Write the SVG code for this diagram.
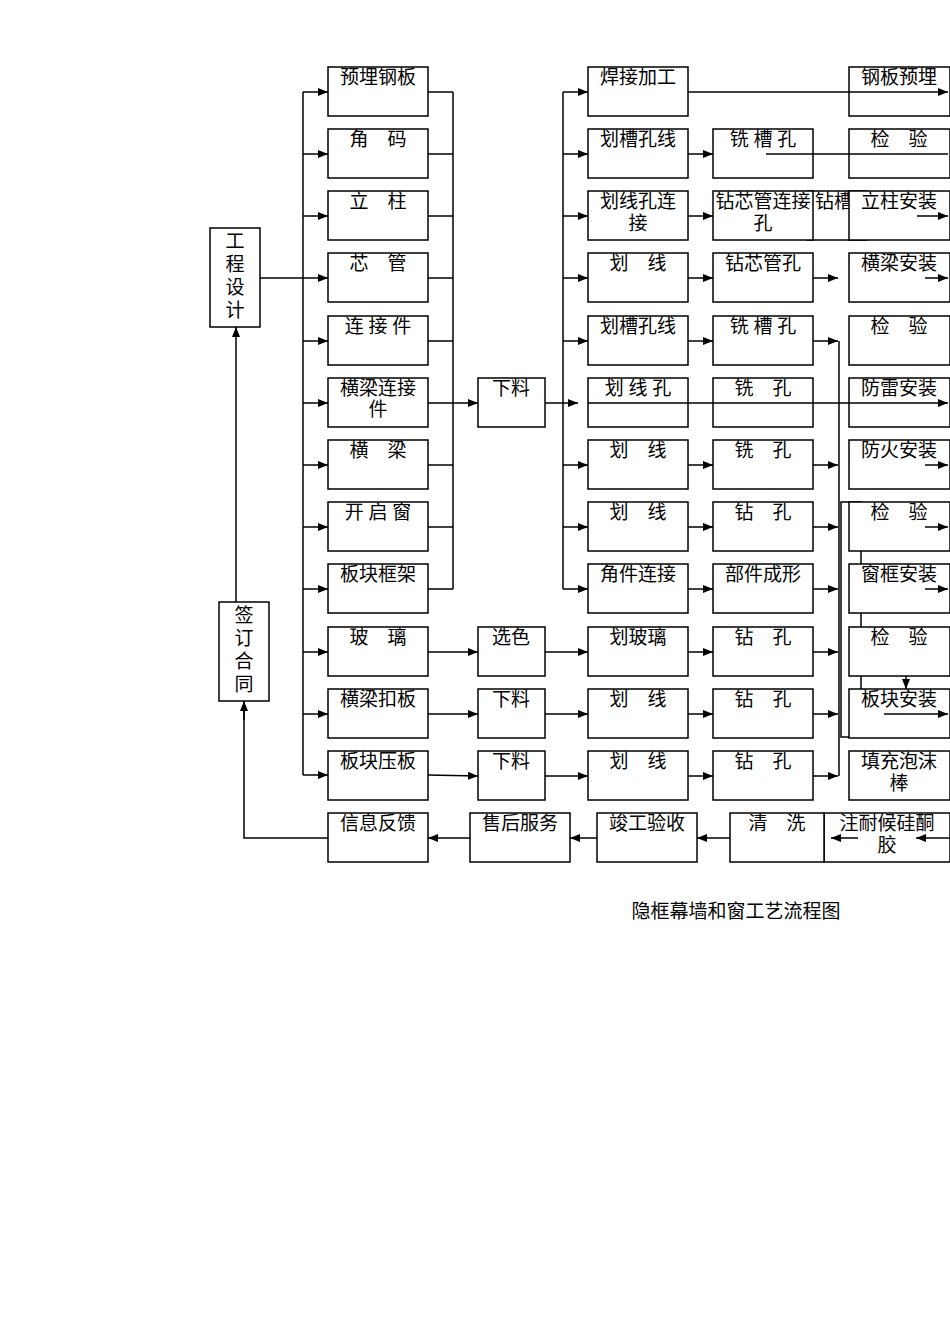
<svg xmlns="http://www.w3.org/2000/svg" width="950" height="1344" viewBox="0 0 950 1344">
<style>
rect{fill:#fff;stroke:#000;stroke-width:1.5}
text{font-family:"Liberation Serif","Noto Sans CJK SC",serif;font-size:19px;fill:#000;text-anchor:middle}
.c line,.c polyline{stroke:#000;stroke-width:1.5;fill:none}
</style>
<defs><marker id="a" markerWidth="10" markerHeight="8" refX="10" refY="4" orient="auto" markerUnits="userSpaceOnUse"><path d="M0,0L10,4L0,8z" fill="#000"/></marker></defs>
<rect width="950" height="1344" style="stroke:none"/>
<g id="n-gcsj"><rect x="210" y="228" width="50" height="99"/><text x="235" y="248">工</text><text x="235" y="271">程</text><text x="235" y="294">设</text><text x="235" y="317">计</text></g>
<g id="n-qdht"><rect x="219" y="602" width="50" height="99"/><text x="244" y="622">签</text><text x="244" y="645">订</text><text x="244" y="668">合</text><text x="244" y="691">同</text></g>
<g id="n-c1"><rect x="328" y="67" width="100" height="49"/><text x="378" y="84">预埋钢板</text></g>
<g id="n-c2"><rect x="328" y="129" width="100" height="49"/><text x="378" y="146">角　码</text></g>
<g id="n-c3"><rect x="328" y="191" width="100" height="49"/><text x="378" y="208">立　柱</text></g>
<g id="n-c4"><rect x="328" y="253" width="100" height="49"/><text x="378" y="270">芯　管</text></g>
<g id="n-c5"><rect x="328" y="316" width="100" height="49"/><text x="378" y="333">连 接 件</text></g>
<g id="n-c6"><rect x="328" y="378" width="100" height="49"/><text x="378" y="395">横梁连接</text><text x="378" y="416">件</text></g>
<g id="n-c7"><rect x="328" y="440" width="100" height="49"/><text x="378" y="457">横　梁</text></g>
<g id="n-c8"><rect x="328" y="502" width="100" height="49"/><text x="378" y="519">开 启 窗</text></g>
<g id="n-c9"><rect x="328" y="564" width="100" height="49"/><text x="378" y="581">板块框架</text></g>
<g id="n-c10"><rect x="328" y="627" width="100" height="49"/><text x="378" y="644">玻　璃</text></g>
<g id="n-c11"><rect x="328" y="689" width="100" height="49"/><text x="378" y="706">横梁扣板</text></g>
<g id="n-c12"><rect x="328" y="751" width="100" height="49"/><text x="378" y="768">板块压板</text></g>
<g id="n-xl"><rect x="478" y="378" width="67" height="49"/><text x="511" y="395">下料</text></g>
<g id="n-xs"><rect x="478" y="627" width="67" height="49"/><text x="511" y="644">选色</text></g>
<g id="n-xl2"><rect x="478" y="689" width="67" height="49"/><text x="511" y="706">下料</text></g>
<g id="n-xl3"><rect x="478" y="751" width="67" height="49"/><text x="511" y="768">下料</text></g>
<g id="n-d1"><rect x="588" y="67" width="100" height="49"/><text x="638" y="84">焊接加工</text></g>
<g id="n-d2"><rect x="588" y="129" width="100" height="49"/><text x="638" y="146">划槽孔线</text></g>
<g id="n-d3"><rect x="588" y="191" width="100" height="49"/><text x="638" y="208">划线孔连</text><text x="638" y="230">接</text></g>
<g id="n-d4"><rect x="588" y="253" width="100" height="49"/><text x="638" y="270">划　线</text></g>
<g id="n-d5"><rect x="588" y="316" width="100" height="49"/><text x="638" y="333">划槽孔线</text></g>
<g id="n-d6"><rect x="588" y="378" width="100" height="49"/><text x="638" y="395">划 线 孔</text></g>
<g id="n-d7"><rect x="588" y="440" width="100" height="49"/><text x="638" y="457">划　线</text></g>
<g id="n-d8"><rect x="588" y="502" width="100" height="49"/><text x="638" y="519">划　线</text></g>
<g id="n-d9"><rect x="588" y="564" width="100" height="49"/><text x="638" y="581">角件连接</text></g>
<g id="n-d10"><rect x="588" y="627" width="100" height="49"/><text x="638" y="644">划玻璃</text></g>
<g id="n-d11"><rect x="588" y="689" width="100" height="49"/><text x="638" y="706">划　线</text></g>
<g id="n-d12"><rect x="588" y="751" width="100" height="49"/><text x="638" y="768">划　线</text></g>
<g id="n-e2"><rect x="713" y="129" width="100" height="49"/><text x="763" y="146">铣 槽 孔</text></g>
<g id="n-ex"><rect x="807" y="191" width="60" height="49"/><text x="834" y="208">钻槽</text></g>
<g id="n-e3"><rect x="713" y="191" width="100" height="49"/><text x="763" y="208">钻芯管连接</text><text x="763" y="230">孔</text></g>
<g id="n-e4"><rect x="713" y="253" width="100" height="49"/><text x="763" y="270">钻芯管孔</text></g>
<g id="n-e5"><rect x="713" y="316" width="100" height="49"/><text x="763" y="333">铣 槽 孔</text></g>
<g id="n-e6"><rect x="713" y="378" width="100" height="49"/><text x="763" y="395">铣　孔</text></g>
<g id="n-e7"><rect x="713" y="440" width="100" height="49"/><text x="763" y="457">铣　孔</text></g>
<g id="n-e8"><rect x="713" y="502" width="100" height="49"/><text x="763" y="519">钻　孔</text></g>
<g id="n-e9"><rect x="713" y="564" width="100" height="49"/><text x="763" y="581">部件成形</text></g>
<g id="n-e10"><rect x="713" y="627" width="100" height="49"/><text x="763" y="644">钻　孔</text></g>
<g id="n-e11"><rect x="713" y="689" width="100" height="49"/><text x="763" y="706">钻　孔</text></g>
<g id="n-e12"><rect x="713" y="751" width="100" height="49"/><text x="763" y="768">钻　孔</text></g>
<g id="n-hid"><rect x="841" y="502" width="20" height="235"/></g>
<g id="n-f1"><rect x="849" y="67" width="101" height="49"/><text x="899" y="84">钢板预埋</text></g>
<g id="n-f2"><rect x="849" y="129" width="101" height="49"/><text x="899" y="146">检　验</text></g>
<g id="n-f3"><rect x="849" y="191" width="101" height="49"/><text x="899" y="208">立柱安装</text></g>
<g id="n-f4"><rect x="849" y="253" width="101" height="49"/><text x="899" y="270">横梁安装</text></g>
<g id="n-f5"><rect x="849" y="316" width="101" height="49"/><text x="899" y="333">检　验</text></g>
<g id="n-f6"><rect x="849" y="378" width="101" height="49"/><text x="899" y="395">防雷安装</text></g>
<g id="n-f7"><rect x="849" y="440" width="101" height="49"/><text x="899" y="457">防火安装</text></g>
<g id="n-f8"><rect x="849" y="502" width="101" height="49"/><text x="899" y="519">检　验</text></g>
<g id="n-f9"><rect x="849" y="564" width="101" height="49"/><text x="899" y="581">窗框安装</text></g>
<g id="n-f10"><rect x="849" y="627" width="101" height="49"/><text x="899" y="644">检　验</text></g>
<g id="n-f11"><rect x="849" y="689" width="101" height="49"/><text x="899" y="706">板块安装</text></g>
<g id="n-f12"><rect x="849" y="751" width="101" height="49"/><text x="899" y="768">填充泡沫</text><text x="899" y="790">棒</text></g>
<g id="n-g1"><rect x="824" y="813" width="126" height="49"/><text x="887" y="830">注耐候硅酮</text><text x="887" y="852">胶</text></g>
<g id="n-g2"><rect x="730" y="813" width="94" height="49"/><text x="777" y="830">清　洗</text></g>
<g id="n-g3"><rect x="597" y="813" width="100" height="49"/><text x="647" y="830">竣工验收</text></g>
<g id="n-g4"><rect x="470" y="813" width="100" height="49"/><text x="520" y="830">售后服务</text></g>
<g id="n-g5"><rect x="328" y="813" width="100" height="49"/><text x="378" y="830">信息反馈</text></g>
<g class="c">
<line x1="260" y1="278" x2="303" y2="278"/>
<line x1="303" y1="92" x2="303" y2="775"/>
<line x1="303" y1="92" x2="328" y2="92" marker-end="url(#a)"/><line x1="303" y1="154" x2="328" y2="154" marker-end="url(#a)"/><line x1="303" y1="216" x2="328" y2="216" marker-end="url(#a)"/><line x1="303" y1="278" x2="328" y2="278" marker-end="url(#a)"/><line x1="303" y1="341" x2="328" y2="341" marker-end="url(#a)"/><line x1="303" y1="403" x2="328" y2="403" marker-end="url(#a)"/><line x1="303" y1="465" x2="328" y2="465" marker-end="url(#a)"/><line x1="303" y1="527" x2="328" y2="527" marker-end="url(#a)"/><line x1="303" y1="589" x2="328" y2="589" marker-end="url(#a)"/><line x1="303" y1="652" x2="328" y2="652" marker-end="url(#a)"/><line x1="303" y1="714" x2="328" y2="714" marker-end="url(#a)"/><line x1="303" y1="775" x2="328" y2="775" marker-end="url(#a)"/>
<line x1="428" y1="92" x2="453" y2="92"/><line x1="428" y1="154" x2="453" y2="154"/><line x1="428" y1="216" x2="453" y2="216"/><line x1="428" y1="278" x2="453" y2="278"/><line x1="428" y1="341" x2="453" y2="341"/><line x1="428" y1="403" x2="453" y2="403"/><line x1="428" y1="465" x2="453" y2="465"/><line x1="428" y1="527" x2="453" y2="527"/><line x1="428" y1="589" x2="453" y2="589"/>
<line x1="453" y1="92" x2="453" y2="589"/>
<line x1="453" y1="403" x2="478" y2="403" marker-end="url(#a)"/>
<line x1="545" y1="403" x2="578" y2="403" marker-end="url(#a)"/>
<line x1="563" y1="92" x2="563" y2="589"/>
<line x1="563" y1="92" x2="588" y2="92" marker-end="url(#a)"/><line x1="563" y1="154" x2="588" y2="154" marker-end="url(#a)"/><line x1="563" y1="216" x2="588" y2="216" marker-end="url(#a)"/><line x1="563" y1="278" x2="588" y2="278" marker-end="url(#a)"/><line x1="563" y1="341" x2="588" y2="341" marker-end="url(#a)"/><line x1="563" y1="465" x2="588" y2="465" marker-end="url(#a)"/><line x1="563" y1="527" x2="588" y2="527" marker-end="url(#a)"/><line x1="563" y1="589" x2="588" y2="589" marker-end="url(#a)"/>
<line x1="428" y1="652" x2="478" y2="652" marker-end="url(#a)"/><line x1="428" y1="714" x2="478" y2="714" marker-end="url(#a)"/><line x1="428" y1="775" x2="478" y2="776" marker-end="url(#a)"/>
<line x1="545" y1="652" x2="588" y2="652" marker-end="url(#a)"/><line x1="545" y1="714" x2="588" y2="714" marker-end="url(#a)"/><line x1="545" y1="776" x2="588" y2="776" marker-end="url(#a)"/>
<line x1="688" y1="154" x2="713" y2="154" marker-end="url(#a)"/><line x1="688" y1="216" x2="713" y2="216" marker-end="url(#a)"/><line x1="688" y1="278" x2="713" y2="278" marker-end="url(#a)"/><line x1="688" y1="341" x2="713" y2="341" marker-end="url(#a)"/><line x1="688" y1="465" x2="713" y2="465" marker-end="url(#a)"/><line x1="688" y1="527" x2="713" y2="527" marker-end="url(#a)"/><line x1="688" y1="589" x2="713" y2="589" marker-end="url(#a)"/><line x1="688" y1="652" x2="713" y2="652" marker-end="url(#a)"/><line x1="688" y1="714" x2="713" y2="714" marker-end="url(#a)"/><line x1="688" y1="776" x2="713" y2="776" marker-end="url(#a)"/>
<line x1="813" y1="278" x2="838" y2="278" marker-end="url(#a)"/><line x1="813" y1="341" x2="838" y2="341" marker-end="url(#a)"/><line x1="813" y1="465" x2="838" y2="465" marker-end="url(#a)"/><line x1="813" y1="527" x2="838" y2="527" marker-end="url(#a)"/><line x1="813" y1="589" x2="838" y2="589" marker-end="url(#a)"/><line x1="813" y1="652" x2="838" y2="652" marker-end="url(#a)"/><line x1="813" y1="714" x2="838" y2="714" marker-end="url(#a)"/><line x1="813" y1="776" x2="838" y2="776" marker-end="url(#a)"/>
<line x1="839" y1="341" x2="839" y2="776"/>
<line x1="588" y1="403" x2="948" y2="403" marker-end="url(#a)"/>
<line x1="688" y1="92" x2="948" y2="92" marker-end="url(#a)"/>
<line x1="766" y1="154" x2="948" y2="154"/>
<line x1="906" y1="676" x2="906" y2="689" marker-end="url(#a)"/>
<line x1="917" y1="216" x2="948" y2="216" marker-end="url(#a)"/><line x1="925" y1="278" x2="948" y2="278" marker-end="url(#a)"/><line x1="925" y1="465" x2="948" y2="465" marker-end="url(#a)"/><line x1="925" y1="527" x2="948" y2="527" marker-end="url(#a)"/><line x1="925" y1="589" x2="948" y2="589" marker-end="url(#a)"/><line x1="884" y1="714" x2="948" y2="714" marker-end="url(#a)"/>
<line x1="858" y1="838" x2="831" y2="838" marker-end="url(#a)"/><line x1="950" y1="838" x2="916" y2="838" marker-end="url(#a)"/>
<line x1="730" y1="838" x2="697" y2="838" marker-end="url(#a)"/><line x1="597" y1="838" x2="570" y2="838" marker-end="url(#a)"/><line x1="470" y1="838" x2="428" y2="838" marker-end="url(#a)"/>
<polyline points="328,838 244,838 244,701"/><line x1="244" y1="720" x2="244" y2="701" marker-end="url(#a)"/>
<line x1="236" y1="602" x2="236" y2="327" marker-end="url(#a)"/>
</g>
<text x="736" y="918">隐框幕墙和窗工艺流程图</text>
</svg>
